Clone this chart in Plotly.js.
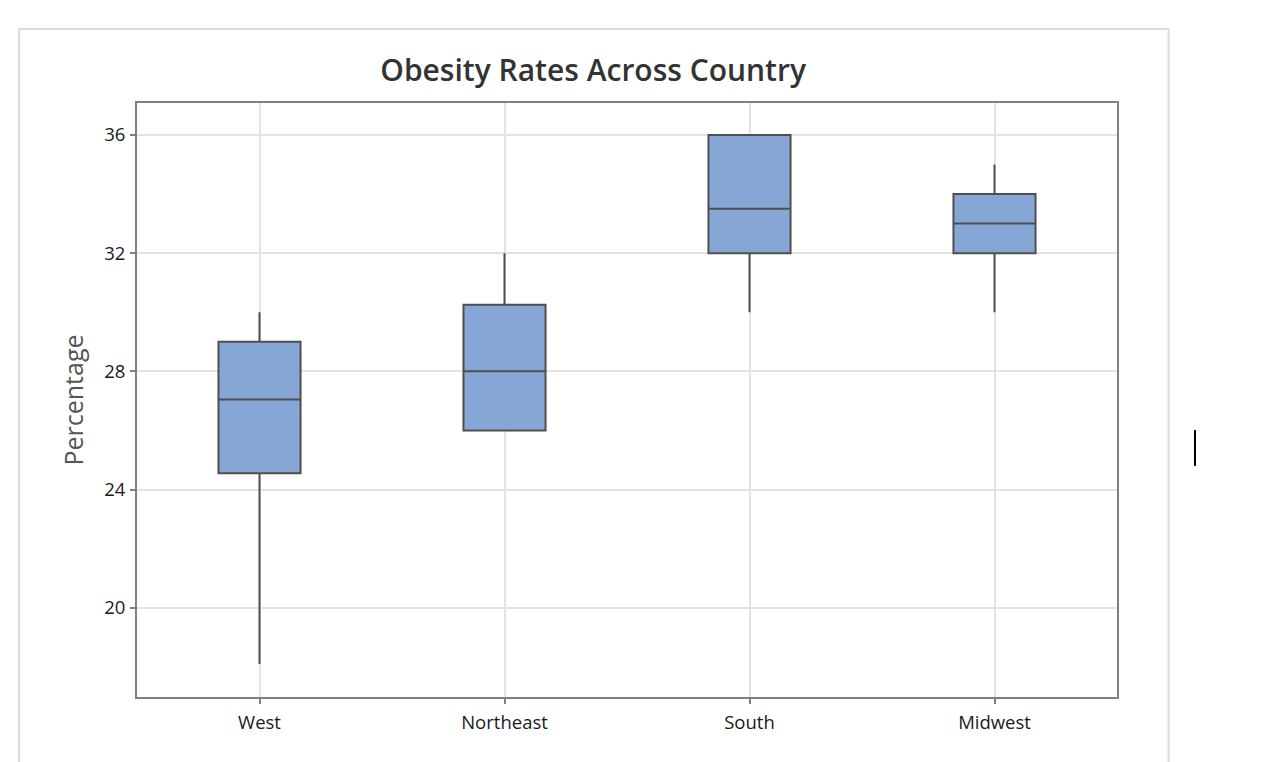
<!DOCTYPE html>
<html>
<head>
<meta charset="utf-8">
<script src="https://cdn.plot.ly/plotly-3.0.1.min.js"></script>
<style>html,body{margin:0;padding:0;background:#fff;}#chart{width:1262px;height:762px;}</style>
</head>
<body>
<div id="chart"></div>
<script>
var regions = ["West", "Northeast", "South", "Midwest"];
var minVals = [18.1, 26, 30, 30];
var q1Vals = [24.55, 26, 32, 32];
var medianVals = [27.05, 28, 33.5, 33];
var q3Vals = [29, 30.25, 36, 34];
var maxVals = [30, 32, 36, 35];
var yTicks = [20, 24, 28, 32, 36];

var trace = {
  type: "box",
  x: regions,
  q1: q1Vals,
  median: medianVals,
  q3: q3Vals,
  lowerfence: minVals,
  upperfence: maxVals,
  boxpoints: false,
  width: 0.335,
  whiskerwidth: 0,
  fillcolor: "#86a6d5",
  line: {color: "#4f4f4f", width: 2},
  hoverinfo: "skip",
  showlegend: false
};

var layout = {
  width: 1262, height: 762,
  margin: {l: 137, r: 145, t: 103, b: 65},
  paper_bgcolor: "#ffffff",
  plot_bgcolor: "#ffffff",
  font: {family: "Open Sans, Noto Sans, sans-serif", color: "#222"},
  title: {
    text: "Obesity Rates Across Country",
    font: {size: 30, color: "#333333", family: "Open Sans, Noto Sans, sans-serif", weight: 600},
    x: 0.470, xref: "container", xanchor: "center",
    y: 0.908, yref: "container", yanchor: "middle"
  },
  xaxis: {
    type: "category",
    categoryarray: regions,
    range: [-0.5, 3.5],
    showgrid: true, gridcolor: "#e3e3e3", gridwidth: 2,
    showline: true, linecolor: "#808080", linewidth: 2, mirror: true,
    ticks: "outside", ticklen: 5, tickcolor: "#808080", tickwidth: 2,
    ticklabelstandoff: 3,
    tickfont: {size: 18.5, color: "#1a1a1a"},
    zeroline: false, fixedrange: true
  },
  yaxis: {
    range: [16.98, 37.08],
    tickvals: yTicks,
    ticktext: yTicks.map(String),
    showgrid: true, gridcolor: "#e3e3e3", gridwidth: 2,
    showline: true, linecolor: "#808080", linewidth: 2, mirror: true,
    ticks: "outside", ticklen: 5, tickcolor: "#808080", tickwidth: 2,
    ticklabelstandoff: 1,
    tickfont: {size: 18.5, color: "#1a1a1a"},
    zeroline: false, fixedrange: true,
    title: {text: "Percentage", font: {size: 25, color: "#555555"}, standoff: 13}
  },
  shapes: [
    {type: "rect", xref: "paper", yref: "paper", x0: -0.1204, x1: 1.0526, y0: -0.2, y1: 1.1246,
     line: {color: "#dcdcdc", width: 2}, fillcolor: "rgba(0,0,0,0)", layer: "below"},
    {type: "line", xref: "paper", yref: "paper", x0: 1.0796, x1: 1.0796, y0: 0.389, y1: 0.4495,
     line: {color: "#000000", width: 2}}
  ]
};

Plotly.newPlot("chart", [trace], layout, {displayModeBar: false, staticPlot: true});
</script>
</body>
</html>
